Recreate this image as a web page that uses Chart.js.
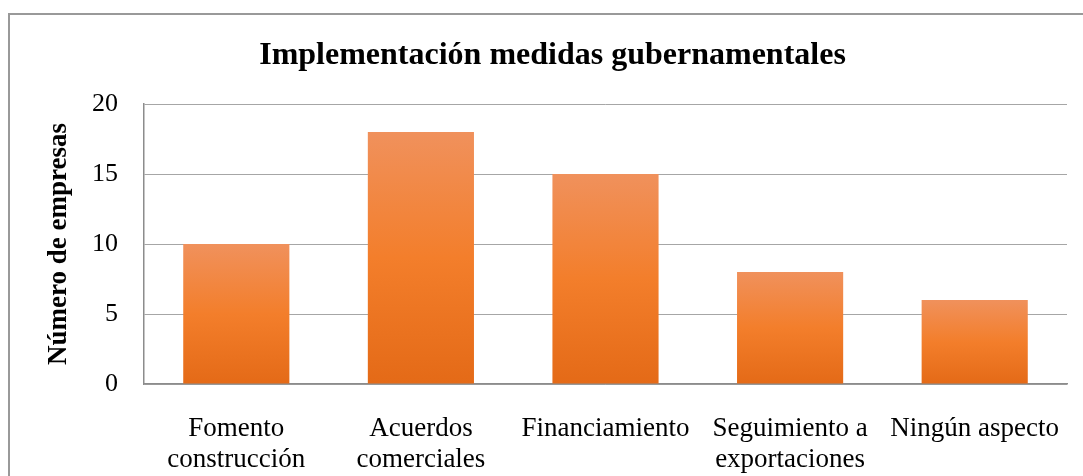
<!DOCTYPE html>
<html>
<head>
<meta charset="utf-8">
<script src="https://cdn.jsdelivr.net/npm/chart.js@4"></script>
<style>
  html, body { margin: 0; padding: 0; background: #fff; overflow: hidden; }
  #frame { position: absolute; left: 8px; top: 13px; width: 1200px; height: 600px; border: 2px solid #999; }
  #wrap { position: absolute; left: 0; top: 0; width: 1083px; height: 476px; }
</style>
</head>
<body>
<div id="frame"></div>
<div id="wrap"><canvas id="myChart"></canvas></div>
<script>
var categories = [
    ['Fomento', 'construcción'],
    ['Acuerdos', 'comerciales'],
    'Financiamiento',
    ['Seguimiento a', 'exportaciones'],
    'Ningún aspecto'
];
var empresas = [10, 18, 15, 8, 6];
var yTicks = [0, 5, 10, 15, 20];

function barGradient(context) {
    var chart = context.chart;
    var y = chart.scales.y;
    if (!chart.chartArea || !y || !context.parsed) return '#F07E2A';
    var top = y.getPixelForValue(context.parsed.y);
    var bottom = y.getPixelForValue(0);
    if (!isFinite(top) || !isFinite(bottom)) return '#F07E2A';
    var g = chart.ctx.createLinearGradient(0, top, 0, bottom);
    g.addColorStop(0, '#F0915C');
    g.addColorStop(0.5, '#F37E2B');
    g.addColorStop(1, '#E46A17');
    return g;
}

var ctx = document.getElementById('myChart').getContext('2d');
var myChart = new Chart(ctx, {
    type: 'bar',
    data: {
        labels: categories,
        datasets: [{
            label: 'Número de empresas',
            data: empresas,
            backgroundColor: barGradient,
            borderWidth: 0,
            categoryPercentage: 1,
            barPercentage: 0.575
        }]
    },
    options: {
        responsive: true,
        maintainAspectRatio: false,
        animation: false,
        // left padding also moves the centred title to the right
        layout: { padding: { left: 38, right: 16, top: 0, bottom: 0 } },
        plugins: {
            legend: { display: false },
            tooltip: { enabled: false },
            title: {
                display: true,
                text: 'Implementación medidas gubernamentales',
                color: '#000',
                font: { family: 'Liberation Serif', size: 32, weight: 'bold' },
                padding: { top: 37, bottom: 28.6 }
            }
        },
        scales: {
            x: {
                afterFit: function (scale) {
                    scale.height = 92;
                    scale.paddingLeft = 0;
                    scale.paddingRight = 0;
                },
                grid: { display: true, drawOnChartArea: false, drawTicks: false },
                border: { color: '#8c8c8c', width: 1.5 },
                ticks: {
                    color: '#000',
                    padding: 29,
                    maxRotation: 0,
                    autoSkip: false,
                    font: { family: 'Liberation Serif', size: 27, lineHeight: 1.15 }
                }
            },
            y: {
                min: 0,
                max: 20,
                afterBuildTicks: function (scale) {
                    scale.ticks = yTicks.map(function (v) { return { value: v }; });
                },
                afterFit: function (scale) { scale.width = 106; },
                grid: { color: '#a6a6a6', lineWidth: 1, drawTicks: false },
                border: { color: '#8c8c8c', width: 1.5 },
                ticks: {
                    color: '#000',
                    padding: 26,
                    font: { family: 'Liberation Serif', size: 26 }
                },
                title: {
                    display: true,
                    text: 'Número de empresas',
                    color: '#000',
                    padding: { top: 5 },
                    font: { family: 'Liberation Serif', size: 27, weight: 'bold' }
                }
            }
        }
    }
});
</script>
</body>
</html>
